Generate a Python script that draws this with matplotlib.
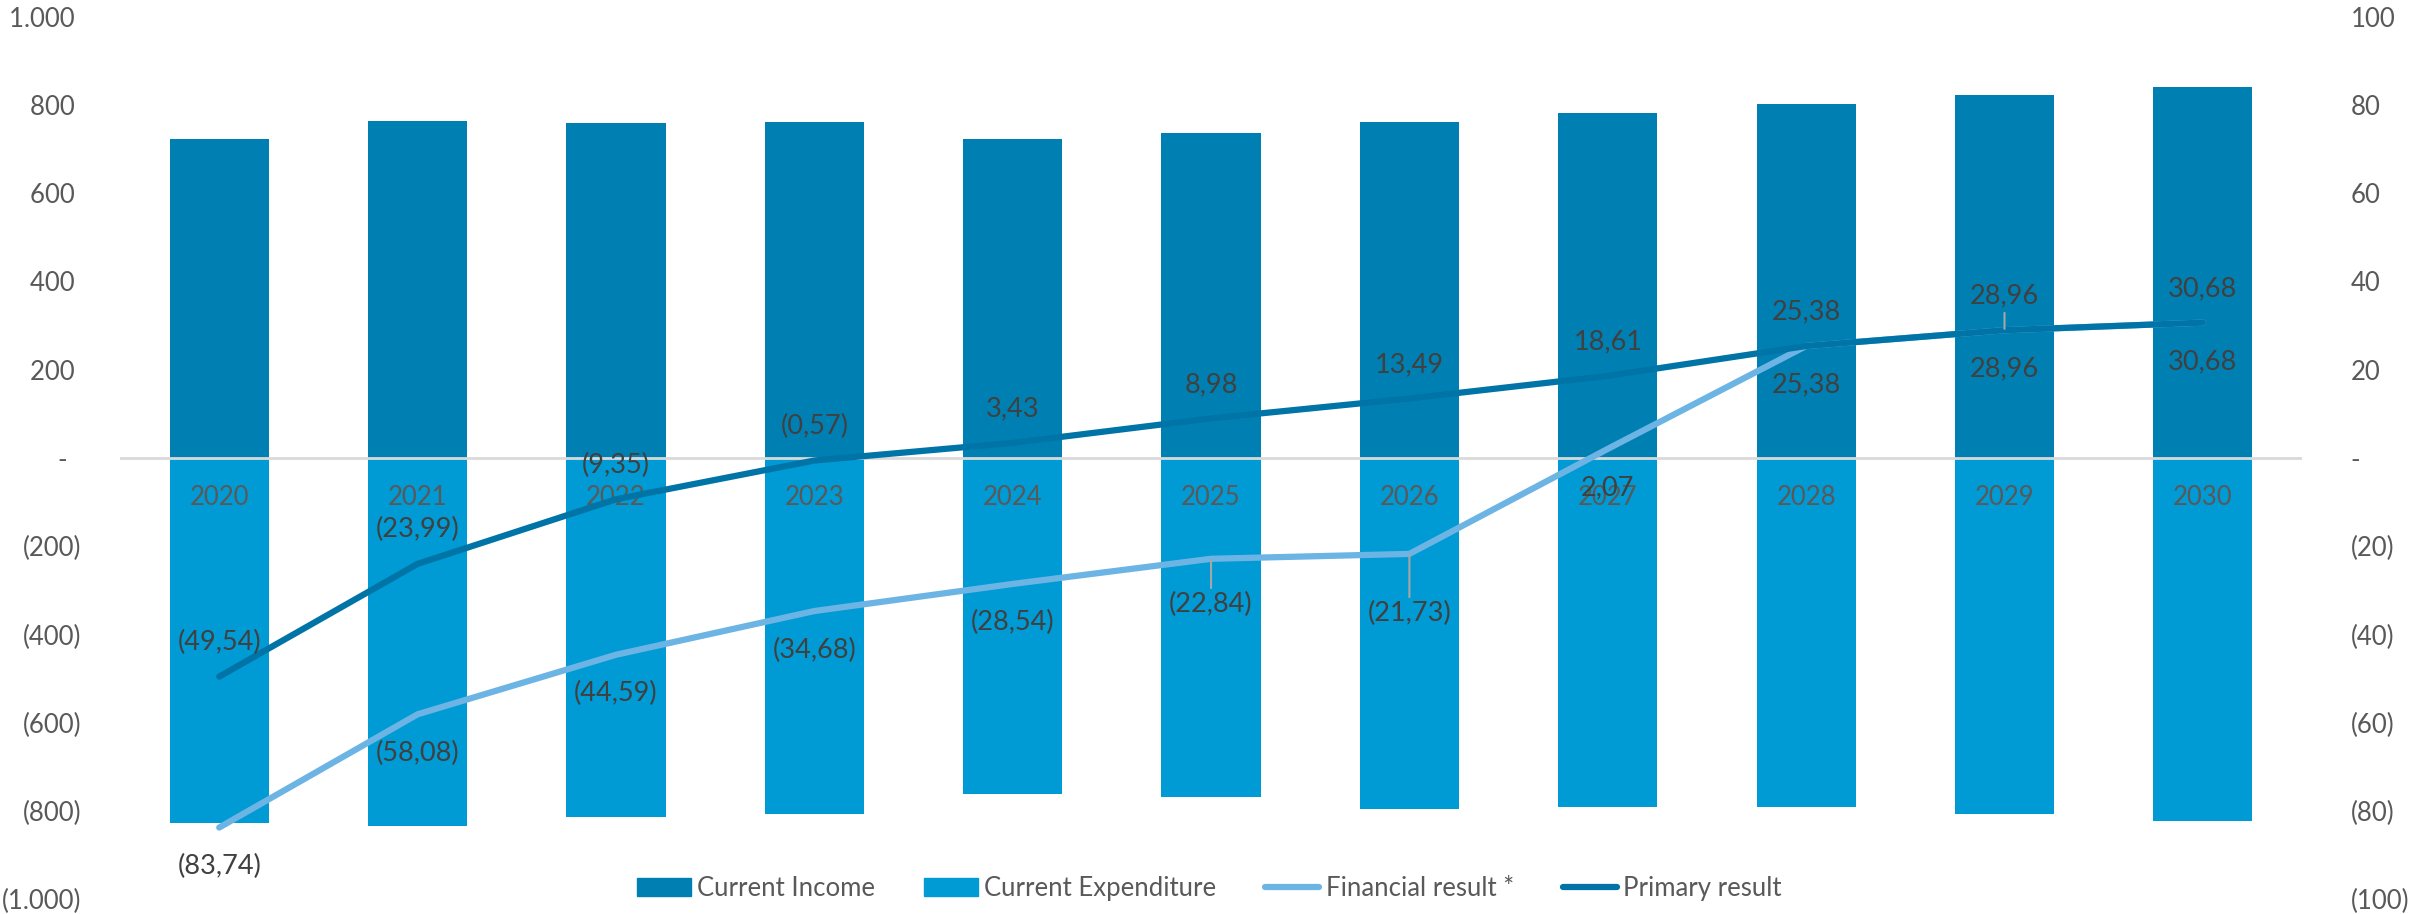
import matplotlib
matplotlib.use('Agg')
import matplotlib.pyplot as plt
from matplotlib.ticker import FuncFormatter, MultipleLocator
from matplotlib.patches import Patch
from matplotlib.lines import Line2D

plt.rcParams['font.family'] = ['Lato', 'DejaVu Sans']

years = ['2020', '2021', '2022', '2023', '2024', '2025', '2026', '2027', '2028', '2029', '2030']
income = [722, 763, 759, 761, 722, 736, 762, 781, 803, 823, 840]
expenditure = [-828, -833, -814, -807, -762, -769, -795, -791, -790, -806, -822]
financial = [-83.74, -58.08, -44.59, -34.68, -28.54, -22.84, -21.73, 2.07, 25.38, 28.96, 30.68]
primary = [-49.54, -23.99, -9.35, -0.57, 3.43, 8.98, 13.49, 18.61, 25.38, 28.96, 30.68]

c_income = '#0080B2'
c_exp = '#009AD4'
c_fin = '#6CB4E4'
c_prim = '#0074A6'
c_tick = '#595959'
c_label = '#404040'


def fmt_axis(v, pos):
    if abs(v) < 1e-9:
        return '-  '
    s = f'{abs(v):,.0f}'.replace(',', '.')
    return f'({s})' if v < 0 else s + ' '


def fmt_label(v):
    s = f'{abs(v):.2f}'.replace('.', ',')
    return f'({s})' if v < 0 else s


fig = plt.figure(figsize=(24.25, 9.14), dpi=100)
ax = fig.add_axes([0.0495, 0.0161, 0.8998, 0.9656])
ax2 = ax.twinx()

x = list(range(len(years)))
ax.bar(x, income, width=0.5, color=c_income, zorder=2)
ax.bar(x, expenditure, width=0.5, color=c_exp, zorder=2)
ax.axhline(0, color='#D9D9D9', lw=2, zorder=3)

ax.set_xlim(-0.5, len(years) - 0.5)
ax.set_ylim(-1000, 1000)
ax2.set_ylim(-100, 100)
ax.yaxis.set_major_locator(MultipleLocator(200))
ax2.yaxis.set_major_locator(MultipleLocator(20))
ax.yaxis.set_major_formatter(FuncFormatter(fmt_axis))
ax2.yaxis.set_major_formatter(FuncFormatter(lambda v, p: fmt_axis(v, p).strip()))
ax.set_xticks([])
for a in (ax, ax2):
    for s in a.spines.values():
        s.set_visible(False)
ax.tick_params(axis='y', length=0, pad=28, labelsize=18.5, labelcolor=c_tick)
ax2.tick_params(axis='y', length=0, pad=35, labelsize=18.5, labelcolor=c_tick)

# year labels just under the zero line
for i, yr in enumerate(years):
    ax.annotate(yr, (i, 0), xytext=(0, -39), textcoords='offset pixels',
                ha='center', va='center', fontsize=18.5, color=c_tick, zorder=4)

ax2.plot(x, financial, color=c_fin, lw=4.5, solid_capstyle='round', solid_joinstyle='round', zorder=5)
ax2.plot(x, primary, color=c_prim, lw=4.5, solid_capstyle='round', solid_joinstyle='round', zorder=6)

# data labels: primary above the line, financial below
lead = dict(arrowstyle='-', color='#A6A6A6', lw=1.5, shrinkA=1, shrinkB=1)
for i, v in enumerate(primary):
    props = lead if i == 9 else None
    ax2.annotate(fmt_label(v), (i, v), xytext=(0, 34), textcoords='offset pixels',
                 ha='center', va='center', fontsize=19.5, color=c_label, zorder=7,
                 arrowprops=props)
fin_off = {5: 46, 6: 60}
for i, v in enumerate(financial):
    dy = fin_off.get(i, 39)
    props = lead if i in fin_off else None
    ax2.annotate(fmt_label(v), (i, v), xytext=(0, -dy), textcoords='offset pixels',
                 ha='center', va='center', fontsize=19.5, color=c_label, zorder=7,
                 arrowprops=props)

handles = [Patch(color=c_income), Patch(color=c_exp),
           Line2D([], [], color=c_fin, lw=4.5, solid_capstyle='round'),
           Line2D([], [], color=c_prim, lw=4.5, solid_capstyle='round')]
names = ['Current Income', 'Current Expenditure', 'Financial result *', 'Primary result']
fig.legend(handles, names, loc='center', bbox_to_anchor=(0.4986, 0.0284), ncol=4,
           frameon=False, fontsize=18.5, labelcolor=c_tick, handlelength=2.1,
           handletextpad=0.25, columnspacing=1.9)

fig.savefig('out.png', dpi=100)
